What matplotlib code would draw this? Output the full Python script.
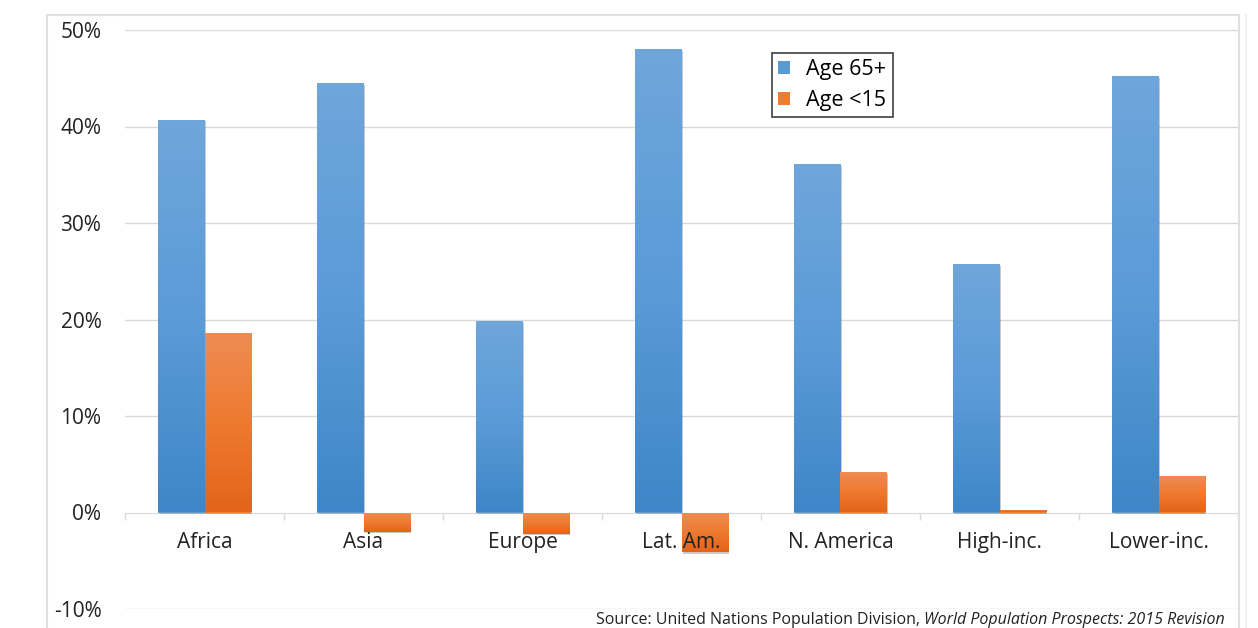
#!/usr/bin/env python3

"""
Change in population share by age group, 2015-2050 (UN WPP 2015 revision)
"""

import numpy as np
import matplotlib.pyplot as plt
import matplotlib.patheffects as pe
from matplotlib.colors import LinearSegmentedColormap
from matplotlib.lines import Line2D
from matplotlib.ticker import FuncFormatter

plt.rcParams['font.family'] = ['Open Sans', 'DejaVu Sans']

regions = ["Africa", "Asia", "Europe", "Lat. Am.", "N. America", "High-inc.", "Lower-inc."]
age65 = [40.7, 44.5, 19.8, 48.0, 36.1, 25.7, 45.2]
age15 = [18.6, -2.0, -2.2, -4.1, 4.2, 0.3, 3.8]
yticks = [-10, 0, 10, 20, 30, 40, 50]

blue_cm = LinearSegmentedColormap.from_list("b", ["#3f86c8", "#5b9bd8", "#6fa6db"])
orange_cm = LinearSegmentedColormap.from_list("o", ["#e3641a", "#ee7a30", "#ef8c55"])

fig = plt.figure(figsize=(12.58, 6.28), dpi=100)
ax = fig.add_axes([125/1258, 1-609/628, (1238-125)/1258, 579/628])

x = np.arange(len(regions))
w = 0.29
b1 = ax.bar(x - w/2, age65, w, color="#5b9bd5", label="Age 65+")
b2 = ax.bar(x + w/2, age15, w, color="#ed7d31", label="Age <15")

leg = ax.legend(loc="upper left", bbox_to_anchor=(0.581, 0.961), borderaxespad=0,
                fancybox=False, edgecolor="#404040", framealpha=1, fontsize=15.5,
                handlelength=0.55, handleheight=0.55, handletextpad=0.75,
                borderpad=0.3, labelspacing=0.45)
leg.get_frame().set_linewidth(1.2)

# vertical gradient fill, lighter at the top of each bar
grad = np.linspace(0, 1, 256).reshape(-1, 1)
for bars, cm in ((b1, blue_cm), (b2, orange_cm)):
    for p in bars:
        x0, y0 = p.get_x(), p.get_y()
        h = p.get_height()
        lo, hi = min(y0, y0 + h), max(y0, y0 + h)
        p.set_path_effects([pe.SimplePatchShadow(offset=(1.2, -1.2), alpha=0.25), pe.Normal()])
        im = ax.imshow(grad, cmap=cm, aspect="auto", origin="lower",
                       extent=(x0, x0 + p.get_width(), lo, hi), zorder=1.1)
        im.set_clip_path(p)

ax.set_xlim(-0.5, len(regions) - 0.5)
ax.set_ylim(-10, 50)
ax.set_yticks(yticks)
ax.yaxis.set_major_formatter(FuncFormatter(lambda v, _: f"{v:.0f}%"))
for yv in yticks:
    if yv != 0:
        ax.axhline(yv, color="#d9d9d9", lw=1, zorder=0.5)

for s in ("left", "right", "top"):
    ax.spines[s].set_visible(False)
ax.spines["bottom"].set_position(("data", 0))
ax.spines["bottom"].set_color("#d9d9d9")
ax.spines["bottom"].set_zorder(0.5)

ax.set_xticks(x)
ax.set_xticklabels(regions)
ax.set_xticks(np.arange(len(regions) + 1) - 0.5, minor=True)
ax.tick_params(axis="x", which="major", length=0, pad=14, labelsize=15, labelcolor="#222222")
ax.tick_params(axis="x", which="minor", length=5, color="#d9d9d9", width=1)
ax.tick_params(axis="y", length=0, pad=17, labelsize=15, labelcolor="#222222")

# outer chart border
fig.add_artist(Line2D([47/1258, 47/1258], [0, 1-15/628], color="#e0e0e0", lw=1.5))
fig.add_artist(Line2D([47/1258, 1239/1258], [1-15/628, 1-15/628], color="#e0e0e0", lw=1.5))
fig.add_artist(Line2D([1239/1258, 1239/1258], [0, 1-15/628], color="#e0e0e0", lw=1.5))
fig.add_artist(Line2D([1246/1258, 1246/1258], [0, 1-15/628], color="#f0f0f0", lw=1.5))

t2 = fig.text(1225/1258, 1-620/628, "World Population Prospects: 2015 Revision",
              ha="right", va="center", fontsize=11.5, style="italic", color="#222222")
fig.canvas.draw()
bb = t2.get_window_extent()
fig.text(bb.x0 / fig.bbox.width, 1-620/628, "Source: United Nations Population Division, ",
         ha="right", va="center", fontsize=11.5, color="#222222")

fig.savefig("out.png", dpi=100)
